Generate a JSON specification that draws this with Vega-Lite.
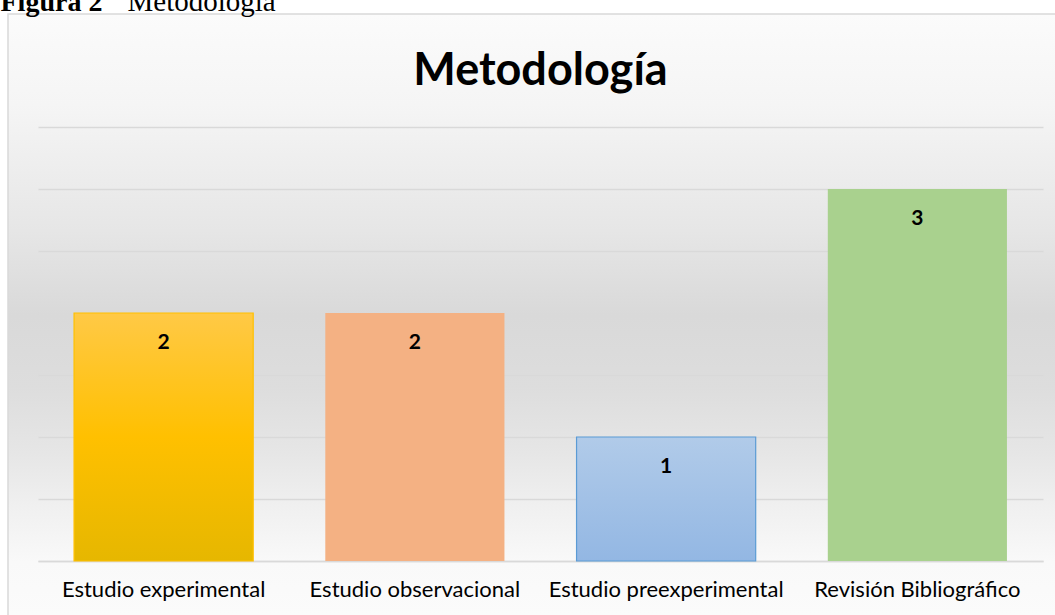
{
  "$schema": "https://vega.github.io/schema/vega-lite/v6.json",
  "autosize": "none",
  "width": 1048,
  "height": 602,
  "padding": {"left": 8, "top": 14, "right": 0, "bottom": 0},
  "background": "#ffffff",
  "config": {
    "view": {
      "stroke": "#d9d9d9",
      "strokeWidth": 1.5,
      "fill": {
        "gradient": "linear", "x1": 0, "y1": 0, "x2": 0, "y2": 1,
        "stops": [
          {"offset": 0, "color": "#fbfbfb"},
          {"offset": 0.15, "color": "#f5f5f5"},
          {"offset": 0.36, "color": "#e6e6e6"},
          {"offset": 0.5, "color": "#d9d9d9"},
          {"offset": 0.62, "color": "#dddddd"},
          {"offset": 0.73, "color": "#e6e6e6"},
          {"offset": 0.81, "color": "#efefef"},
          {"offset": 0.91, "color": "#f9f9f9"},
          {"offset": 1, "color": "#fbfbfb"}
        ]
      }
    }
  },
  "data": {
    "values": [
      {"metodologia": "Estudio experimental", "n": 2},
      {"metodologia": "Estudio observacional", "n": 2},
      {"metodologia": "Estudio preexperimental", "n": 1},
      {"metodologia": "Revisión Bibliográfico", "n": 3}
    ]
  },
  "layer": [
    {
      "mark": {"type": "bar", "strokeWidth": 1.2},
      "encoding": {
        "x": {
          "field": "metodologia", "type": "nominal", "sort": null,
          "scale": {"range": [30, 1035], "paddingInner": 0.287, "paddingOuter": 0.1435},
          "axis": {
            "orient": "bottom", "offset": -55, "title": null,
            "domain": true, "domainColor": "#d9d9d9", "domainWidth": 1.5,
            "ticks": false, "grid": false, "labelAngle": 0, "labelLimit": 0,
            "labelFont": "Lato", "labelFontSize": 22, "labelColor": "#000000",
            "labelPadding": 18
          }
        },
        "y": {
          "field": "n", "type": "quantitative",
          "scale": {"domain": [-0.4435, 4.4113], "nice": false, "zero": false},
          "axis": {
            "orient": "left", "values": [0, 0.5, 1, 1.5, 2, 2.5, 3, 3.5],
            "grid": true, "gridColor": "#d9d9d9", "gridWidth": 1.5,
            "domain": false, "ticks": false, "labels": false,
            "title": "Figura 2", "titleAngle": 0, "titleX": -8, "titleY": -4,
            "titleAlign": "left", "titleBaseline": "alphabetic",
            "titleFont": "Liberation Serif", "titleFontSize": 28,
            "titleFontWeight": "bold", "titleColor": "#000000"
          }
        },
        "y2": {"datum": 0},
        "color": {
          "condition": [
            {"test": "datum.metodologia === 'Estudio experimental'",
             "value": {"gradient": "linear", "x1": 0, "y1": 0, "x2": 0, "y2": 1,
               "stops": [{"offset": 0, "color": "#ffc946"}, {"offset": 0.5, "color": "#ffc000"}, {"offset": 1, "color": "#e6b700"}]}},
            {"test": "datum.metodologia === 'Estudio observacional'", "value": "#f4b183"},
            {"test": "datum.metodologia === 'Estudio preexperimental'",
             "value": {"gradient": "linear", "x1": 0, "y1": 0, "x2": 0, "y2": 1,
               "stops": [{"offset": 0, "color": "#b1cbe9"}, {"offset": 1, "color": "#93b7e3"}]}}
          ],
          "value": "#a9d18e"
        },
        "stroke": {
          "condition": [
            {"test": "datum.metodologia === 'Estudio experimental'", "value": "#ffc000"},
            {"test": "datum.metodologia === 'Estudio preexperimental'", "value": "#5b9bd5"}
          ],
          "value": null
        }
      }
    },
    {
      "mark": {"type": "text", "dy": 30, "baseline": "middle", "font": "Lato", "fontSize": 21, "fontWeight": "bold", "color": "#000000"},
      "encoding": {
        "x": {
          "field": "metodologia", "type": "nominal", "sort": null,
          "axis": {
            "orient": "top", "domain": false, "ticks": false, "labels": false, "grid": false,
            "title": "Metodología", "titleX": 532, "titleY": 70,
            "titleAlign": "center", "titleBaseline": "alphabetic",
            "titleFont": "Lato", "titleFontSize": 45, "titleFontWeight": "bold", "titleColor": "#000000"
          }
        },
        "y": {
          "field": "n", "type": "quantitative",
          "axis": {
            "orient": "right", "domain": false, "ticks": false, "labels": false, "grid": false,
            "title": "Metodología", "titleAngle": 0, "titleX": -929, "titleY": -4,
            "titleAlign": "left", "titleBaseline": "alphabetic",
            "titleFont": "Liberation Serif", "titleFontSize": 29,
            "titleFontWeight": "normal", "titleColor": "#000000"
          }
        },
        "text": {"field": "n", "type": "quantitative"}
      }
    }
  ],
  "resolve": {"axis": {"x": "independent", "y": "independent"}}
}
